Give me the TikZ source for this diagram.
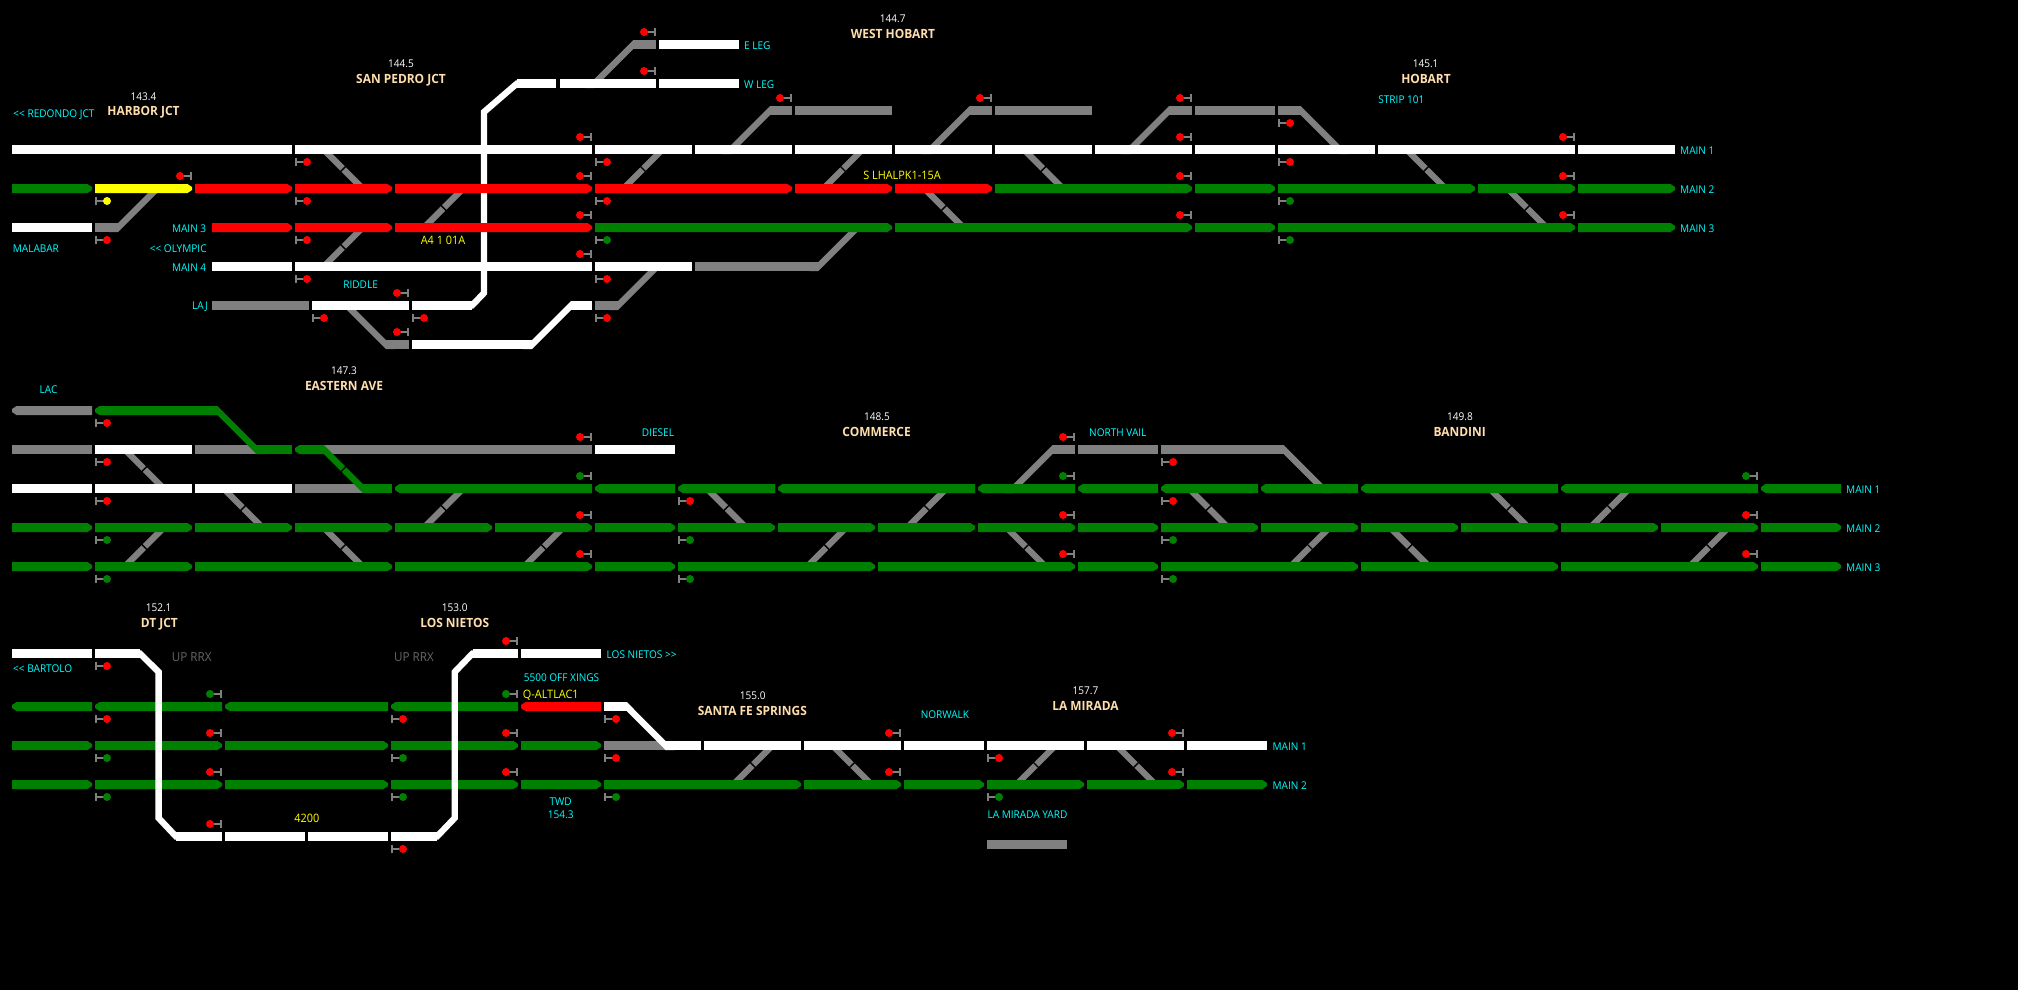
\documentclass[tikz,border=0pt]{standalone}
\usepackage{fontspec}
\setmainfont{Open Sans}[FakeStretch=0.94]
\definecolor{tgreen}{HTML}{008000}
\definecolor{tred}{HTML}{FF0000}
\definecolor{tyellow}{HTML}{FFFF00}
\definecolor{tgray}{HTML}{808080}
\definecolor{tcyan}{HTML}{00FFFF}
\definecolor{tpeach}{HTML}{FFDEAD}
\def\rI{44.5}\def\rH{83.5}\def\rG{110.5}\def\rA{149.5}\def\rB{188.5}\def\rC{227.5}\def\rD{266.5}\def\rE{305.5}\def\rF{344.5}
\def\rP{410.5}\def\rQ{449.5}\def\rR{488.5}\def\rS{527.5}\def\rT{566.5}
\def\rU{653.5}\def\rV{706.5}\def\rW{745.5}\def\rX{784.5}\def\rY{836.5}
% plain track block
\newcommand{\trk}[4]{\fill[#4] ({#1},{#3-4.5}) rectangle ({#2},{#3+4.5});}
% block with a tip on the right
\newcommand{\trR}[4]{\fill[#4] ({#1},{#3-4.5}) -- ({#2-4.5},{#3-4.5}) -- ({#2},{#3-1.5}) -- ({#2},{#3+1.5}) -- ({#2-4.5},{#3+4.5}) -- ({#1},{#3+4.5}) -- cycle;}
% block with a tip on the left
\newcommand{\trL}[4]{\fill[#4] ({#2},{#3-4.5}) -- ({#1+4.5},{#3-4.5}) -- ({#1},{#3-1.5}) -- ({#1},{#3+1.5}) -- ({#1+4.5},{#3+4.5}) -- ({#2},{#3+4.5}) -- cycle;}
% crossovers: xc, upper row, lower row
\newcommand{\xoD}[3]{\draw[diag] ({#1-19.5},#2) -- ({#1+19.5},#3);
  \draw[gap] ({#1+4},{(#2+#3)/2-4}) -- ({#1-4},{(#2+#3)/2+4});}
\newcommand{\xoU}[3]{\draw[diag] ({#1+19.5},#2) -- ({#1-19.5},#3);
  \draw[gap] ({#1-4},{(#2+#3)/2-4}) -- ({#1+4},{(#2+#3)/2+4});}
% signals: above a track (dot left of the bar), below a track (dot right of the bar)
\newcommand{\sigA}[3]{\draw[stem] ({#1-1},{#2-16.5}) -- ({#1-1},{#2-8.5}) ({#1-1},{#2-12.5}) -- ({#1-12},{#2-12.5});
  \fill[#3] ({#1-12},{#2-12.5}) circle (4pt);}
\newcommand{\sigB}[3]{\draw[stem] ({#1+1},{#2+8.5}) -- ({#1+1},{#2+16.5}) ({#1+1},{#2+12.5}) -- ({#1+12},{#2+12.5});
  \fill[#3] ({#1+12},{#2+12.5}) circle (4pt);}
% slanted band with flat ends: x1,y1 (upper), x2,y2 (lower), colour
\newcommand{\band}[5]{\fill[#5] ({#1-4.5},#2) -- ({#1+4.5},#2) -- ({#3+4.5},#4) -- ({#3-4.5},#4) -- cycle;}
% bends: lower-left to upper-right, and upper-left to lower-right; points on row centres
\newcommand{\bendU}[5]{\band{#3+4.5}{#4-4.5}{#1-4.5}{#2+4.5}{#5}}
\newcommand{\bendD}[5]{\band{#1-4.5}{#2-4.5}{#3+4.5}{#4+4.5}{#5}}
\tikzset{
  diag/.style={draw=tgray,line width=6.3pt},
  gap/.style={draw=black,line width=1.4pt},
  stem/.style={draw=tgray,line width=1.5pt},
  rail/.style={line width=6.3pt,line join=miter},
  lab/.style={inner sep=0pt,text height=7.8pt,text depth=0pt,font=\fontsize{10.7}{12}\selectfont},
  cyanlab/.style={lab,text=tcyan},
  yellab/.style={lab,text=tyellow,font=\fontsize{11.6}{13}\selectfont},
  kmlab/.style={lab,text=white},
  stnlab/.style={lab,text=tpeach,font=\bfseries\fontsize{12.7}{14}\selectfont},
  graylab/.style={lab,text=tgray!120!white,font=\fontsize{12.4}{14}\selectfont},
}
\begin{document}
\begin{tikzpicture}[x=1pt,y=-1pt]
\useasboundingbox (0,0) rectangle (2018,989);
\fill[black] (-3,-3) rectangle (2021,992);
% ---------- TOP SECTION ----------
\xoD{343.2}{\rA}{\rB}\xoU{443.6}{\rB}{\rC}\xoU{343.2}{\rC}{\rD}
\xoU{643}{\rA}{\rB}\xoU{843}{\rA}{\rB}\xoD{1043.4}{\rA}{\rB}\xoD{943.8}{\rB}{\rC}
\xoD{1426}{\rA}{\rB}\xoD{1527}{\rB}{\rC}
\bendU{118}{\rC}{157}{\rB}{tgray}
\bendD{347}{\rE}{386}{\rF}{tgray}
\bendU{618}{\rE}{657}{\rD}{tgray}
\bendU{818.4}{\rD}{857.4}{\rC}{tgray}
\bendU{594.4}{\rH}{633.4}{\rI}{tgray}
\bendU{731}{\rA}{770}{\rG}{tgray}
\bendU{930.5}{\rA}{969.5}{\rG}{tgray}
\bendU{1130}{\rA}{1169}{\rG}{tgray}
\bendD{1300.6}{\rG}{1339.6}{\rA}{tgray}
\draw[rail,white] (450,\rE) -- (472,\rE) -- (484,293) -- (484,112) -- (517,\rH) -- (530,\rH);
\bendU{532}{\rF}{571}{\rE}{white}
\foreach \a/\b in {12/292,295/592,595/692,695/792,795/892,895/992,995/1092,1095/1192,1195/1275,1278/1375,1378/1575,1578/1675} {\trk{\a}{\b}{\rA}{white}}
\trR{12}{92}{\rB}{tgreen}\trR{95}{192}{\rB}{tyellow}
\foreach \a/\b in {195/292,295/392,395/592,595/792,795/892,895/992} {\trR{\a}{\b}{\rB}{tred}}
\foreach \a/\b in {995/1192,1195/1275,1278/1475,1478/1575,1578/1675} {\trR{\a}{\b}{\rB}{tgreen}}
\trk{12}{92}{\rC}{white}\trk{95}{118}{\rC}{tgray}
\foreach \a/\b in {212/292,295/392,395/592} {\trR{\a}{\b}{\rC}{tred}}
\foreach \a/\b in {595/892,895/1192,1195/1275,1278/1575,1578/1675} {\trR{\a}{\b}{\rC}{tgreen}}
\foreach \a/\b in {212/292,295/592,595/692} {\trk{\a}{\b}{\rD}{white}}
\trk{695}{818.4}{\rD}{tgray}
\trk{212}{309}{\rE}{tgray}\trk{312}{409}{\rE}{white}\trk{412}{472}{\rE}{white}
\trk{571}{592}{\rE}{white}\trk{595}{618}{\rE}{tgray}
\trk{386}{409}{\rF}{tgray}\trk{412}{532}{\rF}{white}
\trk{559.5}{656}{\rH}{white}\trk{517}{556}{\rH}{white}\trk{659}{739}{\rH}{white}
\trk{633.4}{656}{\rI}{tgray}\trk{659}{739}{\rI}{white}
\trk{770}{792}{\rG}{tgray}\trk{795}{892}{\rG}{tgray}
\trk{969.5}{992}{\rG}{tgray}\trk{995}{1092}{\rG}{tgray}
\trk{1169}{1192}{\rG}{tgray}\trk{1195}{1275}{\rG}{tgray}\trk{1278}{1300.6}{\rG}{tgray}
% top signals
\sigA{192}{\rB}{tred}
\foreach \x/\r in {592/\rA,592/\rB,592/\rC,592/\rD,409/\rE,409/\rF,656/\rI,656/\rH,792/\rG,992/\rG,1192/\rG,1192/\rA,1192/\rB,1192/\rC,1575/\rA,1575/\rB,1575/\rC} {\sigA{\x}{\r}{tred}}
\sigB{95}{\rB}{tyellow}
\foreach \x/\r in {95/\rC,295/\rA,295/\rB,295/\rC,295/\rD,312/\rE,412/\rE,595/\rA,595/\rB,595/\rD,595/\rE,1278/\rG,1278/\rA} {\sigB{\x}{\r}{tred}}
\foreach \x/\r in {595/\rC,1278/\rB,1278/\rC} {\sigB{\x}{\r}{tgreen}}
% ---------- MIDDLE SECTION ----------
\xoD{144.3}{\rQ}{\rR}\xoU{144.3}{\rS}{\rT}\xoD{243}{\rR}{\rS}\xoU{443.6}{\rR}{\rS}\xoD{343.2}{\rS}{\rT}\xoU{543.7}{\rS}{\rT}
\xoD{726.3}{\rR}{\rS}\xoU{926.8}{\rR}{\rS}\xoU{826.7}{\rS}{\rT}\xoD{1026}{\rS}{\rT}
\xoD{1208.5}{\rR}{\rS}\xoU{1310}{\rS}{\rT}\xoD{1409.6}{\rS}{\rT}\xoD{1509}{\rR}{\rS}\xoU{1609.8}{\rR}{\rS}\xoU{1709}{\rS}{\rT}
\bendU{1013.5}{\rR}{1052.5}{\rQ}{tgray}
\bendD{1283.6}{\rQ}{1322.6}{\rR}{tgray}
\trL{12}{92}{\rP}{tgray}\trL{95}{217.5}{\rP}{tgreen}
\trk{12}{92}{\rQ}{tgray}\trk{95}{192}{\rQ}{white}\trk{195}{262}{\rQ}{tgray}\trk{256.5}{292}{\rQ}{tgreen}
\trL{295}{324}{\rQ}{tgreen}\trk{324}{592}{\rQ}{tgray}\trk{595}{675}{\rQ}{white}
\trk{1052.5}{1075}{\rQ}{tgray}\trk{1078}{1158}{\rQ}{tgray}\trk{1161}{1283.6}{\rQ}{tgray}
\trk{12}{92}{\rR}{white}\trk{95}{192}{\rR}{white}\trk{195}{292}{\rR}{white}\trk{295}{365}{\rR}{tgray}\trk{363}{392}{\rR}{tgreen}
\foreach \a/\b in {395/592,595/675,678/775,778/975,978/1075,1078/1158,1161/1258,1261/1358,1361/1558,1561/1758} {\trL{\a}{\b}{\rR}{tgreen}}
\trL{1761}{1841}{\rR}{tgreen}
\foreach \a/\b in {12/92,95/192,195/292,295/392,395/492,495/592,595/675,678/775,778/875,878/975,978/1075,1078/1158,1161/1258,1261/1358,1361/1458,1461/1558,1561/1658,1661/1758,1761/1841} {\trR{\a}{\b}{\rS}{tgreen}}
\foreach \a/\b in {12/92,95/192,195/392,395/592,595/675,678/875,878/1075,1078/1158,1161/1358,1361/1558,1561/1758,1761/1841} {\trR{\a}{\b}{\rT}{tgreen}}
\bendD{217.5}{\rP}{256.5}{\rQ}{tgreen}
\bendD{324}{\rQ}{363}{\rR}{tgreen}
\draw[gap] (347.5,465) -- (339.5,473);
% middle signals
\foreach \x/\r in {95/\rP,95/\rQ,95/\rR,678/\rR,1161/\rQ,1161/\rR} {\sigB{\x}{\r}{tred}}
\foreach \x/\r in {95/\rS,95/\rT,678/\rS,678/\rT,1161/\rS,1161/\rT} {\sigB{\x}{\r}{tgreen}}
\foreach \x/\r in {592/\rQ,592/\rS,592/\rT,1075/\rQ,1075/\rS,1075/\rT,1758/\rS,1758/\rT} {\sigA{\x}{\r}{tred}}
\foreach \x/\r in {592/\rR,1075/\rR,1758/\rR} {\sigA{\x}{\r}{tgreen}}
% ---------- BOTTOM SECTION ----------
\xoU{752.8}{\rW}{\rX}\xoD{852}{\rW}{\rX}\xoU{1036}{\rW}{\rX}\xoD{1136}{\rW}{\rX}
\foreach \a/\b in {12/92,95/222,225/388,391/518} {\trL{\a}{\b}{\rV}{tgreen}}
\trL{521}{601}{\rV}{tred}
\trk{604}{626.8}{\rV}{white}
\foreach \a/\b in {12/92,95/222,225/388,391/518,521/601} {\trR{\a}{\b}{\rW}{tgreen}\trR{\a}{\b}{\rX}{tgreen}}
\trk{604}{668}{\rW}{tgray}
\foreach \a/\b in {665.5/701,704/801,804/901,904/984,987/1084,1087/1184,1187/1267} {\trk{\a}{\b}{\rW}{white}}
\foreach \a/\b in {604/801,804/901,904/984,987/1084,1087/1184,1187/1267} {\trR{\a}{\b}{\rX}{tgreen}}
\bendD{626.8}{\rV}{665.5}{\rW}{white}
\draw[rail,white] (130,\rU) -- (140,\rU) -- (158.6,672) -- (158.6,818) -- (176,\rY) -- (186,\rY);
\draw[rail,white] (427,\rY) -- (437,\rY) -- (454.7,818) -- (454.7,672) -- (472.5,\rU) -- (482,\rU);
\foreach \a/\b in {12/92,95/140,472.5/518,521/601} {\trk{\a}{\b}{\rU}{white}}
\foreach \a/\b in {176/222,225/305,308/388,391/437} {\trk{\a}{\b}{\rY}{white}}
\trk{987}{1067}{844.5}{tgray}
% bottom signals
\foreach \x/\r in {95/\rU,95/\rV,391/\rV,391/\rY,604/\rV,604/\rW,987/\rW} {\sigB{\x}{\r}{tred}}
\foreach \x/\r in {95/\rW,95/\rX,391/\rW,391/\rX,604/\rX,987/\rX} {\sigB{\x}{\r}{tgreen}}
\foreach \x/\r in {222/\rW,222/\rX,222/\rY,518/\rU,518/\rW,518/\rX,901/\rW,901/\rX,1184/\rW,1184/\rX} {\sigA{\x}{\r}{tred}}
\foreach \x/\r in {222/\rV,518/\rV} {\sigA{\x}{\r}{tgreen}}
% ---------- LABELS ----------
\node[kmlab] (k1) at (143.5,97) {143.4};
\node[stnlab] (s1) at (143.5,111.7) {HARBOR JCT};
\node[cyanlab] (c1) at (54,113.3) {<{}< REDONDO JCT};
\node[kmlab] (k2) at (401,64) {144.5};
\node[stnlab] (s2) at (401,79.7) {SAN PEDRO JCT};
\node[cyanlab,anchor=east] (c2) at (206.4,228.3) {MAIN 3};
\node[cyanlab,anchor=east] (c3) at (206.4,267.3) {MAIN 4};
\node[cyanlab,anchor=east] (c4) at (206.8,248.3) {<{}< OLYMPIC};
\node[cyanlab,anchor=west] (c5) at (12.7,248.3) {MALABAR};
\node[yellab] (y1) at (443,241) {A4 1 01A};
\node[cyanlab] (c6) at (360.6,284.3) {RIDDLE};
\node[cyanlab,anchor=east] (c7) at (208,305.3) {LAJ};
\node[cyanlab,anchor=west] (c8) at (744,45.7) {E LEG};
\node[cyanlab,anchor=west] (c9) at (744,84.5) {W LEG};
\node[kmlab] (k3) at (892.8,19) {144.7};
\node[stnlab] (s3) at (893,34.3) {WEST HOBART};
\node[yellab] (y2) at (902,176) {S LHALPK1-15A};
\node[kmlab] (k4) at (1425.6,64) {145.1};
\node[stnlab] (s4) at (1426,79.3) {HOBART};
\node[cyanlab] (c10) at (1401.4,99.7) {STRIP 101};
\node[cyanlab,anchor=west] (c11) at (1680,150.3) {MAIN 1};
\node[cyanlab,anchor=west] (c12) at (1680,189.3) {MAIN 2};
\node[cyanlab,anchor=west] (c13) at (1680,228.3) {MAIN 3};
\node[cyanlab] (c14) at (48.6,389.3) {LAC};
\node[kmlab] (k5) at (344,371) {147.3};
\node[stnlab] (s5) at (344,386.7) {EASTERN AVE};
\node[cyanlab] (c15) at (658,432.3) {DIESEL};
\node[kmlab] (k6) at (877,417) {148.5};
\node[stnlab] (s6) at (876.6,432.3) {COMMERCE};
\node[cyanlab] (c16) at (1117.8,432.3) {NORTH VAIL};
\node[kmlab] (k7) at (1460,417) {149.8};
\node[stnlab] (s7) at (1459.6,432.7) {BANDINI};
\node[cyanlab,anchor=west] (c17) at (1846,489.3) {MAIN 1};
\node[cyanlab,anchor=west] (c18) at (1846,528.3) {MAIN 2};
\node[cyanlab,anchor=west] (c19) at (1846,567.3) {MAIN 3};
\node[kmlab] (k8) at (158.6,608) {152.1};
\node[stnlab] (s8) at (159.4,623.3) {DT JCT};
\node[kmlab] (k9) at (454.7,608) {153.0};
\node[stnlab] (s9) at (454.7,623.7) {LOS NIETOS};
\node[graylab] (g1) at (191.8,657.3) {UP RRX};
\node[graylab] (g2) at (414,657.3) {UP RRX};
\node[cyanlab,anchor=west] (c20) at (13,668.3) {<{}< BARTOLO};
\node[cyanlab,anchor=west] (c21) at (606.5,654.3) {LOS NIETOS >{}>};
\node[cyanlab] (c22) at (561.5,677.3) {5500 OFF XINGS};
\node[yellab] (y3) at (550.8,695) {Q-ALTLAC1};
\node[yellab] (y4) at (306.8,819) {4200};
\node[cyanlab] (c23) at (560.7,801.7) {TWD};
\node[cyanlab] (c24) at (560.7,814.7) {154.3};
\node[kmlab] (k10) at (752.8,696) {155.0};
\node[stnlab] (s10) at (752.3,711.3) {SANTA FE SPRINGS};
\node[cyanlab] (c25) at (944.9,714.7) {NORWALK};
\node[kmlab] (k11) at (1085.5,691) {157.7};
\node[stnlab] (s11) at (1085.5,706.3) {LA MIRADA};
\node[cyanlab,anchor=west] (c26) at (987.4,814.3) {LA MIRADA YARD};
\node[cyanlab,anchor=west] (c27) at (1272.4,746.3) {MAIN 1};
\node[cyanlab,anchor=west] (c28) at (1272.4,785.3) {MAIN 2};
\end{tikzpicture}
\end{document}
